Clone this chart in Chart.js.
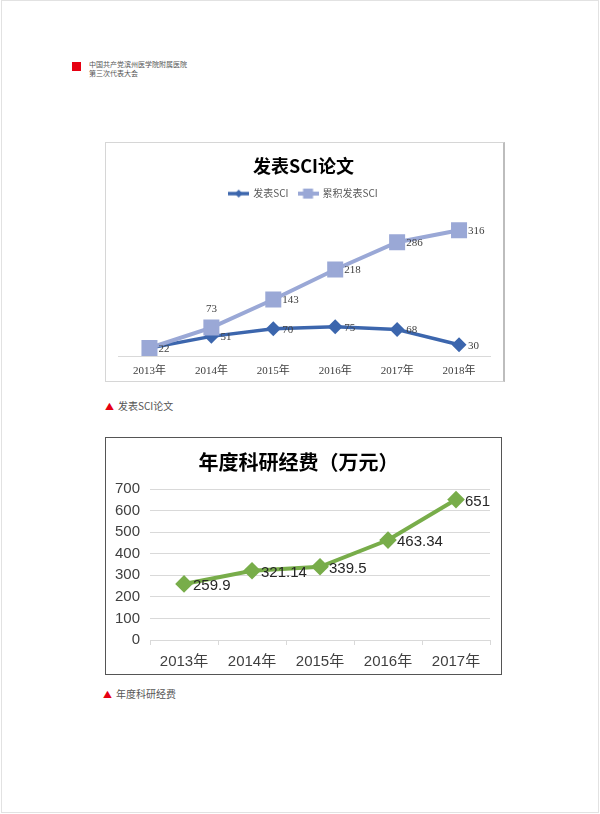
<!DOCTYPE html>
<html>
<head>
<meta charset="utf-8">
<script src="https://cdn.jsdelivr.net/npm/chart.js@4"></script>
<style>
  body { margin: 0; background: #fff; font-family: "Noto Sans CJK SC", sans-serif; }
  .page { position: absolute; left: 1px; top: 0; width: 598px; height: 813px; box-sizing: border-box; border: 1px solid #e2e2e2; }
  .mark { position: absolute; left: 72px; top: 62px; width: 9px; height: 9px; background: #e60012; }
  .head { position: absolute; left: 89px; top: 60px; font-size: 7px; line-height: 9px; color: #555; }
  .box1 { position: absolute; left: 105px; top: 142px; width: 400px; height: 240px; box-sizing: border-box; border: 1px solid #d6d6d6; border-right: 2px solid #bdbdbd; }
  .box2 { position: absolute; left: 105px; top: 437px; width: 397px; height: 238px; box-sizing: border-box; border: 1.5px solid #555; }
  canvas { display: block; }
  .cap { position: absolute; font-size: 10px; color: #555; }
  .cap span { color: #e60012; font-size: 9px; margin-right: 4px; }
</style>
</head>
<body>
<div class="page"></div>
<div class="mark"></div>
<div class="head">中国共产党滨州医学院附属医院<br>第三次代表大会</div>

<div class="box1"><canvas id="sci" width="397" height="238"></canvas></div>
<div class="cap" style="left:105px; top:398px;"><span>▲</span>发表SCI论文</div>

<div class="box2"><canvas id="funds" width="394" height="235"></canvas></div>
<div class="cap" style="left:103px; top:686px;"><span>▲</span>年度科研经费</div>

<script>
// datos del primer grafico
const sciYears = ['2013年', '2014年', '2015年', '2016年', '2017年', '2018年'];
const sciPublished = [22, 51, 70, 75, 68, 30];
const sciCumulative = [22, 73, 143, 218, 286, 316];

// datos del segundo grafico
const fundYears = ['2013年', '2014年', '2015年', '2016年', '2017年'];
const fundValues = [259.9, 321.14, 339.5, 463.34, 651];

const blue = '#3c66ad';
const lightBlue = '#9aa8d6';
const green = '#78ad4a';

// etiquetas de valor junto a cada punto
const pointLabels = {
  id: 'pointLabels',
  afterDatasetsDraw(chart, args, opts) {
    const ctx = chart.ctx;
    ctx.save();
    ctx.font = opts.font;
    ctx.fillStyle = opts.color;
    ctx.textBaseline = 'middle';
    chart.data.datasets.forEach((ds, i) => {
      const meta = chart.getDatasetMeta(i);
      const pos = ds.labelPos || [];
      meta.data.forEach((pt, j) => {
        const p = pos[j] || 'right';
        if (p === 'none') return;
        const txt = String(ds.data[j]);
        if (p === 'top') {
          ctx.textAlign = 'center';
          ctx.fillText(txt, pt.x, pt.y - opts.top);
        } else {
          ctx.textAlign = 'left';
          ctx.fillText(txt, pt.x + opts.dx, pt.y + opts.dy);
        }
      });
    });
    ctx.restore();
  }
};

// icono de leyenda: linea con marcador
function legendIcon(color, style, size, lw) {
  const c = document.createElement('canvas');
  c.width = 21;
  c.height = 14;
  const g = c.getContext('2d');
  g.strokeStyle = color;
  g.fillStyle = color;
  g.lineWidth = lw;
  g.beginPath();
  g.moveTo(0, 7);
  g.lineTo(21, 7);
  g.stroke();
  g.beginPath();
  if (style === 'diamond') {
    g.moveTo(10.5, 7 - size); g.lineTo(10.5 + size, 7); g.lineTo(10.5, 7 + size); g.lineTo(10.5 - size, 7);
  } else {
    g.rect(10.5 - size, 7 - size, size * 2, size * 2);
  }
  g.closePath();
  g.fill();
  return c;
}

const serif = '"Liberation Serif", "Noto Sans CJK SC", serif';

new Chart(document.getElementById('sci'), {
  type: 'line',
  data: {
    labels: sciYears,
    datasets: [
      {
        label: '发表SCI',
        data: sciPublished,
        borderColor: blue,
        backgroundColor: blue,
        pointBackgroundColor: blue,
        pointBorderColor: blue,
        pointStyle: 'rectRot',
        pointRadius: 5,
        borderWidth: 3.5,
        order: 1,
        labelPos: ['none', 'right', 'right', 'right', 'right', 'right']
      },
      {
        label: '累积发表SCI',
        data: sciCumulative,
        borderColor: lightBlue,
        backgroundColor: lightBlue,
        pointBackgroundColor: lightBlue,
        pointBorderColor: lightBlue,
        pointStyle: 'rect',
        pointRadius: 8.5,
        borderWidth: 4,
        order: 0,
        labelPos: ['right', 'top', 'right', 'right', 'right', 'right']
      }
    ]
  },
  options: {
    responsive: false,
    animation: false,
    devicePixelRatio: 1,
    layout: { padding: { left: 11, right: 13, top: 8, bottom: -5 } },
    scales: {
      x: {
        offset: true,
        grid: { display: false, drawTicks: false },
        border: { color: '#d9d9d9' },
        ticks: { color: '#404040', font: { family: serif, size: 11 }, padding: 8 }
      },
      y: { display: false, min: 0, max: 370 }
    },
    plugins: {
      title: {
        display: true,
        text: '发表SCI论文',
        color: '#000',
        font: { family: '"Noto Sans CJK SC", sans-serif', size: 18, weight: 'bold' },
        padding: { top: 4, bottom: 2 }
      },
      legend: {
        labels: {
          color: '#595959',
          font: { family: '"Noto Sans CJK SC", sans-serif', size: 10 },
          usePointStyle: true,
          pointStyleWidth: 19,
          padding: 10,
          generateLabels: (chart) => [
            { text: '发表SCI', pointStyle: legendIcon(blue, 'diamond', 4, 3.5), fontColor: '#595959', datasetIndex: 0, lineWidth: 0 },
            { text: '累积发表SCI', pointStyle: legendIcon(lightBlue, 'square', 5, 4), fontColor: '#595959', datasetIndex: 1, lineWidth: 0 }
          ]
        }
      },
      tooltip: { enabled: false },
      pointLabels: { font: '11px ' + serif, color: '#404040', dx: 9, dy: 1, top: 18 }
    }
  },
  plugins: [pointLabels]
});

const sans = '"Liberation Sans", "Noto Sans CJK SC", sans-serif';

new Chart(document.getElementById('funds'), {
  type: 'line',
  data: {
    labels: fundYears,
    datasets: [
      {
        label: '年度科研经费',
        data: fundValues,
        borderColor: green,
        backgroundColor: green,
        pointBackgroundColor: green,
        pointBorderColor: green,
        pointStyle: 'rectRot',
        pointRadius: 6,
        borderWidth: 4
      }
    ]
  },
  options: {
    responsive: false,
    animation: false,
    devicePixelRatio: 1,
    layout: { padding: { left: -1, right: 8, top: 6, bottom: -6 } },
    scales: {
      x: {
        offset: true,
        grid: { offset: true, drawOnChartArea: false, color: '#d9d9d9', tickLength: 5 },
        border: { color: '#d9d9d9' },
        ticks: { color: '#404040', font: { family: sans, size: 15 }, padding: 8 }
      },
      y: {
        min: 0,
        max: 700,
        ticks: { stepSize: 100, color: '#404040', font: { family: sans, size: 15 }, padding: 10 },
        grid: { color: '#d9d9d9', drawTicks: false },
        border: { display: false }
      }
    },
    plugins: {
      title: {
        display: true,
        text: '年度科研经费（万元）',
        color: '#000',
        font: { family: '"Noto Sans CJK SC", sans-serif', size: 20, weight: 'bold' },
        padding: { top: 6, bottom: 15 }
      },
      legend: { display: false },
      tooltip: { enabled: false },
      pointLabels: { font: '15px ' + sans, color: '#262626', dx: 9, dy: 2, top: 16 }
    }
  },
  plugins: [pointLabels]
});
</script>
</body>
</html>
